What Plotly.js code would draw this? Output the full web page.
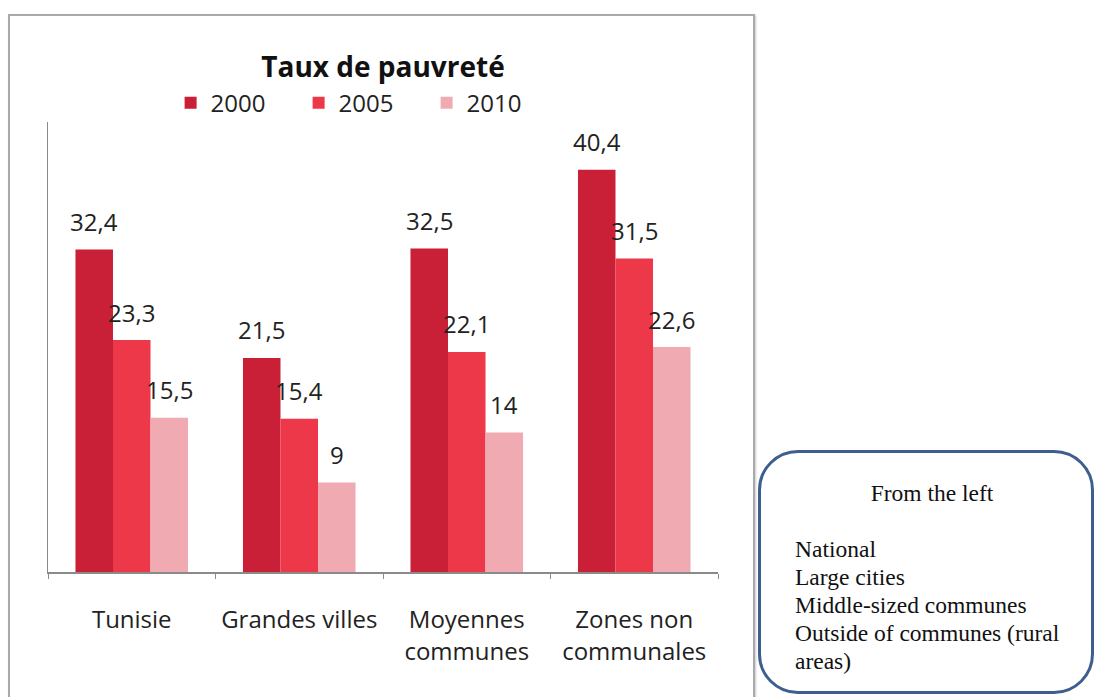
<!DOCTYPE html>
<html>
<head>
<meta charset="utf-8">
<script src="https://cdn.plot.ly/plotly-3.0.1.min.js"></script>
<style>
  body { margin: 0; background: #fff; width: 1097px; height: 697px; overflow: hidden; position: relative; }
  #cadre {
    position: absolute; left: 8px; top: 14px; width: 747px; height: 700px;
    border: 2px solid #a9a9a9; box-shadow: 1px 1px 2px #ccc; box-sizing: border-box;
  }
  #graphique { position: absolute; left: 0; top: 0; width: 757px; height: 697px; }
  #note {
    position: absolute; left: 758px; top: 450px; width: 336px; height: 244px;
    border: 3.5px solid #3d5e8e; border-radius: 40px; box-sizing: border-box; background: #fff;
  }
  #note-texte {
    position: absolute; left: 795px; top: 479px; width: 280px;
    font-family: "Liberation Serif", "Times New Roman", serif; font-size: 23.5px;
    line-height: 28px; color: #111;
  }
  #note-texte .centre { text-align: center; width: 274px; }
</style>
</head>
<body>
<div id="cadre"></div>
<div id="graphique"></div>
<div id="note"></div>
<div id="note-texte">
  <div class="centre">From the left</div>
  <div>&nbsp;</div>
  <div>National</div>
  <div>Large cities</div>
  <div>Middle-sized communes</div>
  <div>Outside of communes (rural<br>areas)</div>
</div>
<script>
/* ========= DONNÉES ========= */
const categories = ["Tunisie", "Grandes villes", "Moyennes<br>communes", "Zones non<br>communales"];
const annees = ["2000", "2005", "2010"];
const taux2000 = [32.4, 21.5, 32.5, 40.4];
const taux2005 = [23.3, 15.4, 22.1, 31.5];
const taux2010 = [15.5, 9, 14, 22.6];

const couleurs = ["#c91f37", "#ec3848", "#efabb1"];
const police = "Open Sans, Noto Sans, sans-serif";

function formater(v) {
  return String(v).replace(".", ",");
}

/* ========= GRAPHIQUE ========= */
const series = [taux2000, taux2005, taux2010];
const bargap = 0.328;
const largeur = (1 - bargap) / series.length;

const traces = series.map((valeurs, i) => ({
  x: categories,
  y: valeurs,
  name: annees[i],
  type: "bar",
  marker: { color: couleurs[i] },
  hoverinfo: "skip",
}));

// étiquettes au-dessus des barres
const etiquettes = [];
series.forEach((valeurs, i) => {
  valeurs.forEach((v, j) => {
    etiquettes.push({
      x: j + (i - 1) * largeur,
      y: v,
      xref: "x",
      yref: "y",
      text: formater(v),
      showarrow: false,
      yanchor: "middle",
      yshift: 28,
      font: { family: police, size: 24, color: "#222" },
    });
  });
});

Plotly.newPlot(
  "graphique",
  traces,
  {
    width: 757,
    height: 697,
    paper_bgcolor: "rgba(0,0,0,0)",
    plot_bgcolor: "rgba(0,0,0,0)",
    margin: { l: 48, r: 39, t: 122, b: 125 },
    barmode: "group",
    bargap: bargap,
    bargroupgap: 0,
    title: {
      text: "<b>Taux de pauvreté</b>",
      x: 0.5,
      xref: "paper",
      y: 1 - 67 / 697,
      yref: "container",
      yanchor: "middle",
      font: { family: police, size: 28, color: "#111" },
    },
    showlegend: true,
    legend: {
      orientation: "h",
      x: 0.183,
      xanchor: "left",
      y: 1.042,
      yanchor: "middle",
      entrywidth: 83,
      entrywidthmode: "pixels",
      font: { family: police, size: 24, color: "#222" },
      bgcolor: "rgba(0,0,0,0)",
    },
    xaxis: {
      type: "category",
      showline: true,
      linecolor: "#8a8a8a",
      linewidth: 1.5,
      ticks: "outside",
      tickson: "boundaries",
      ticklen: 5,
      tickcolor: "#8a8a8a",
      ticklabelstandoff: 26,
      showgrid: false,
      tickfont: { family: police, size: 24, color: "#222" },
      fixedrange: true,
    },
    yaxis: {
      range: [0, 45.2],
      showline: true,
      linecolor: "#8a8a8a",
      linewidth: 1.5,
      showticklabels: false,
      ticks: "",
      showgrid: false,
      zeroline: false,
      fixedrange: true,
    },
    annotations: etiquettes,
  },
  { displayModeBar: false, staticPlot: true },
);
</script>
</body>
</html>
